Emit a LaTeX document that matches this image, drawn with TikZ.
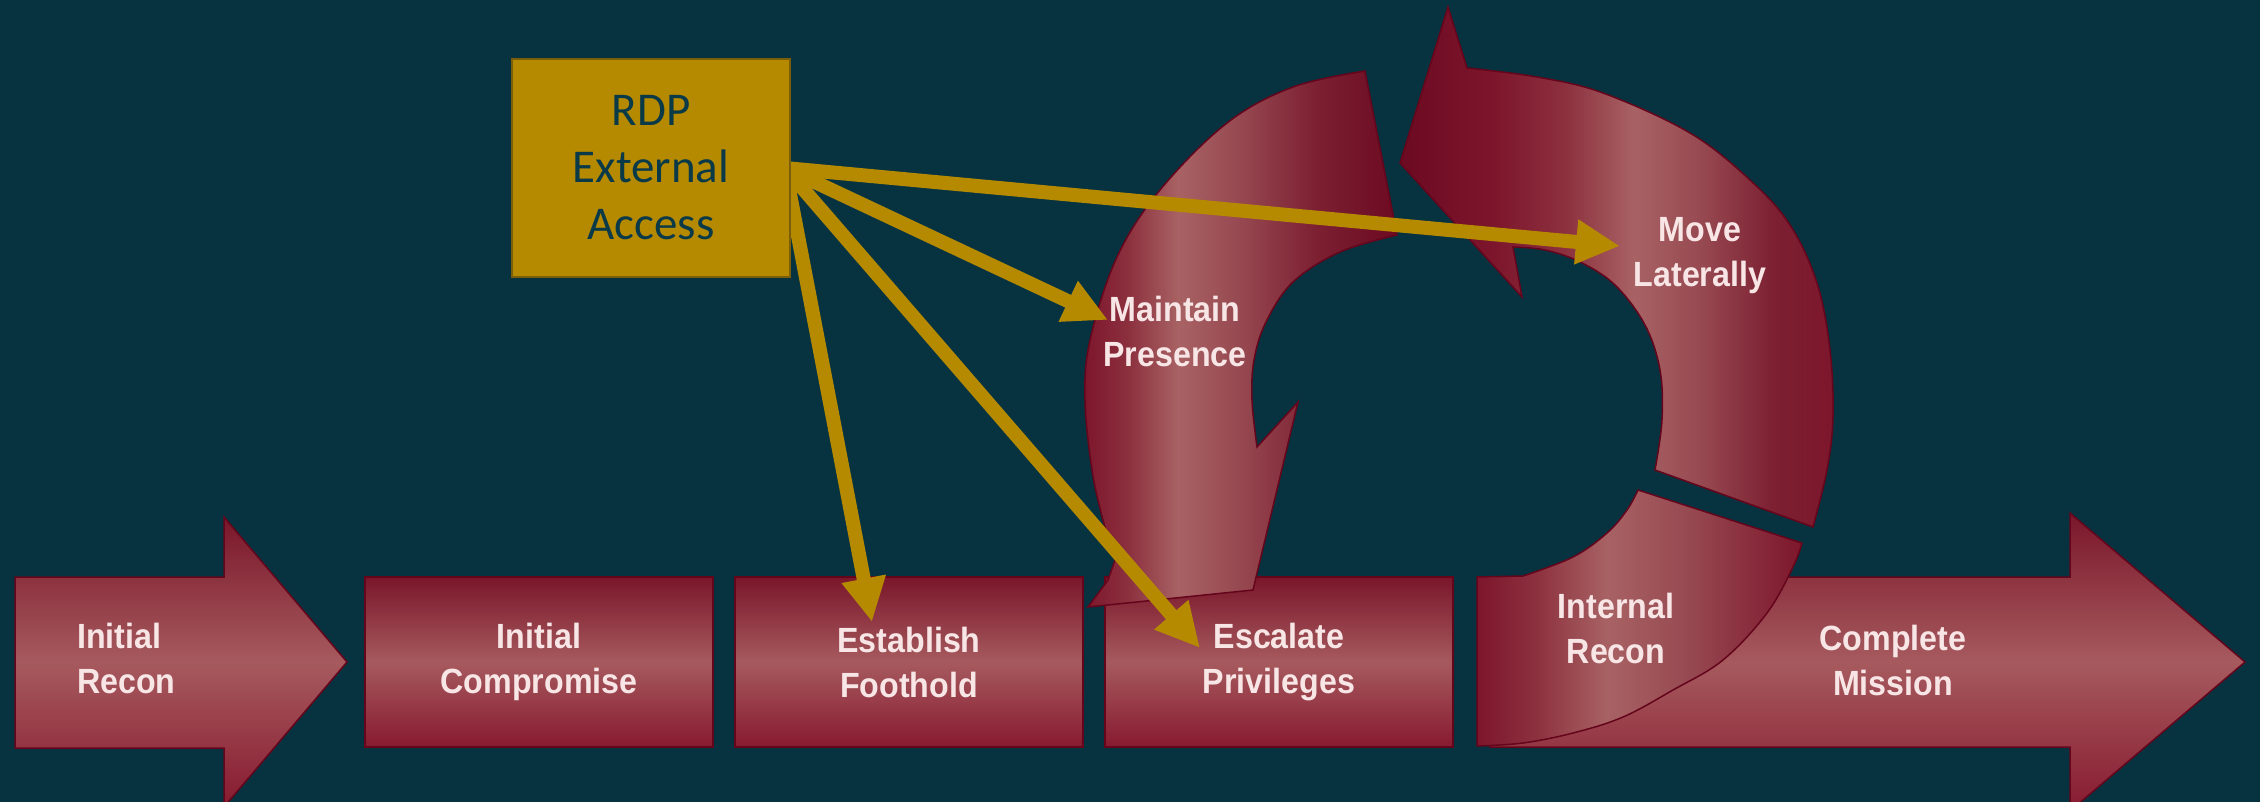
\documentclass[tikz,border=0pt]{standalone}
\usepackage{fontspec}
\usetikzlibrary{arrows.meta}
\newfontfamily\lblfont[FakeStretch=0.92]{Liberation Sans}
\newfontfamily\rdpfont{Carlito}
\definecolor{bg}{RGB}{7,51,64}
\definecolor{gold}{RGB}{181,137,0}
\definecolor{goldedge}{RGB}{122,94,10}
\definecolor{rdptext}{RGB}{10,58,72}
\definecolor{edge}{RGB}{100,5,28}
\definecolor{btop}{RGB}{122,22,42}
\definecolor{bmid}{RGB}{166,90,94}
\definecolor{bbot}{RGB}{135,26,48}
\definecolor{lbltext}{RGB}{248,230,230}
\definecolor{rA}{RGB}{108,10,34}
\definecolor{rB}{RGB}{125,22,44}
\definecolor{rC}{RGB}{140,48,62}
\definecolor{rL}{RGB}{168,98,100}
\definecolor{rD}{RGB}{150,72,80}
\definecolor{rE}{RGB}{124,32,50}
\pgfdeclarehorizontalshading{shMaintain}{100bp}{color(0bp)=(rB); color(25bp)=(rB); color(32bp)=(rC); color(40bp)=(rL); color(50bp)=(rD); color(62bp)=(rE); color(75bp)=(rA); color(100bp)=(rA)}
\pgfdeclarehorizontalshading{shMove}{100bp}{color(0bp)=(rA); color(25bp)=(rA); color(36bp)=(rB); color(44bp)=(rC); color(52bp)=(rL); color(60bp)=(rD); color(68bp)=(rE); color(75bp)=(rB); color(100bp)=(rB)}
\pgfdeclarehorizontalshading{shInt}{100bp}{color(0bp)=(rB); color(25bp)=(rB); color(34bp)=(rC); color(45bp)=(rL); color(58bp)=(rD); color(75bp)=(rB); color(100bp)=(rB)}
\begin{document}
\begin{tikzpicture}[x=1pt,y=-1pt,
  lbl/.style={text=lbltext, font=\lblfont\bfseries\fontsize{35}{45}\selectfont, align=center, inner sep=0pt},
  stage/.style={top color=btop, bottom color=bbot, middle color=bmid, draw=edge, line width=1.5pt},
  stagebox/.style={stage, lbl, rectangle, minimum width=348pt, minimum height=170pt},
  ring/.style={draw=edge, line width=1.5pt, shading angle=0},
  link/.style={draw=gold, line width=14pt, -{Triangle[length=44pt,width=42pt]}},
  rdpbox/.style={rectangle, fill=gold, draw=goldedge, line width=2pt, minimum width=278pt, minimum height=218pt, inner sep=0pt, text=rdptext, align=center, font=\rdpfont\fontsize{47}{57}\selectfont}
]
\useasboundingbox (0,0) rectangle (2260,802);
\clip (0,0) rectangle (2260,802);
\fill[bg] (0,0) rectangle (2260,802);

% Initial Recon arrow
\shadedraw[stage] (15,577) -- (224,577) -- (224,517) -- (347,662) -- (224,807) -- (224,748) -- (15,748) -- cycle;
\node[lbl, anchor=west, align=left] (lrecon) at (77,658) {Initial\\Recon};

% stage boxes
\node[stagebox] (comp) at (539,662) {Initial\\Compromise};
\node[stagebox] (foot) at (909,662) {Establish\\Foothold};
\node[stagebox] (esc) at (1279,662) {Escalate\\Privileges};

% Complete Mission arrow
\shadedraw[stage] (1490,577) -- (2070,577) -- (2070,513) -- (2245,662) -- (2070,811) -- (2070,747) -- (1490,747) -- cycle;
\node[lbl] (lmission) at (1893,660) {Complete\\Mission};

% Internal Recon
\shadedraw[ring, shading=shInt] (1477,577) -- plot[smooth, tension=0.6] coordinates {(1523,576) (1573,557) (1607,533) (1627,510) (1638,490)} -- plot[smooth, tension=0.6] coordinates {(1802,543) (1793,567) (1767,613) (1723,660) (1673,690) (1623,717) (1573,733) (1523,743) (1477,746)} -- cycle;
\node[lbl] (lint) at (1616,628) {Internal\\Recon};

% Move Laterally
\shadedraw[ring, shading=shMove] plot[smooth, tension=0.6] coordinates {(1467,68) (1537,77) (1603,93) (1690,133) (1750,180) (1790,225) (1817,283) (1830,350) (1833,417) (1827,470) (1813,527)} -- plot[smooth, tension=0.6] coordinates {(1655,470) (1662,420) (1660,370) (1645,325) (1615,285) (1580,262) (1545,250) (1513,247)} -- (1522,297) -- (1400,163) -- (1448,7) -- cycle;
\node[lbl] (lmove) at (1700,256) {Move\\Laterally};

% Maintain Presence
\shadedraw[ring, shading=shMaintain] plot[smooth, tension=0.6] coordinates {(1365,71) (1293,87) (1227,123) (1160,190) (1117,257) (1090,340) (1085,400) (1092,470) (1103,520) (1115,560)} -- (1108,580) -- (1088,607) -- (1253,590) -- (1298,402) -- plot[smooth, tension=0.6] coordinates {(1257,447) (1252,400) (1254,360) (1266,322) (1293,282) (1340,252) (1397,235)} -- cycle;
\node[lbl] (lmaint) at (1175,331) {Maintain\\Presence};

% connectors from RDP box
\coordinate (src) at (785,168);
\coordinate (tmove) at (1620,246);
\coordinate (tmaint) at (1108,320);
\coordinate (tesc) at (1200,648);
\coordinate (tfoot) at (872,622);
\draw[link] (src) -- (tmove);
\draw[link] (src) -- (tmaint);
\draw[link] (src) -- (tesc);
\draw[link] (src) -- (tfoot);

\node[rdpbox] (rdp) at (651,168) {RDP\\External\\Access};
\end{tikzpicture}
\end{document}
